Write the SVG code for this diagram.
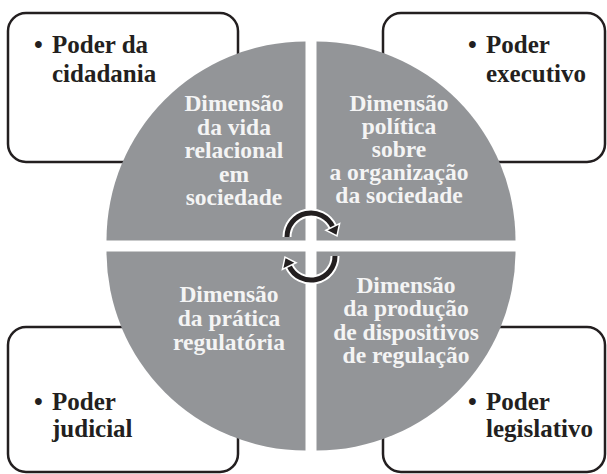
<svg xmlns="http://www.w3.org/2000/svg" width="607" height="474" viewBox="0 0 607 474">
<style>
.box{fill:#fff;stroke:#231f20;stroke-width:2.5}
.q{fill:#939598}
.bt{font-family:"Liberation Serif",serif;font-weight:bold;font-size:25px;fill:#231f20}
.ct{font-family:"Liberation Serif",serif;font-weight:bold;font-size:23.5px;fill:#f4f4f4;text-anchor:middle}
.arcw{fill:none;stroke:#fff;stroke-width:9}
.arcb{fill:none;stroke:#231f20;stroke-width:5}
.head{fill:#231f20;stroke:#fff;stroke-width:1.5;stroke-linejoin:miter}
</style>
<rect width="607" height="474" fill="#fff"/>
<g id="box-cidadania"><rect class="box" x="8" y="13" width="230" height="149" rx="18"/>
<text class="bt"><tspan x="34" y="53">•</tspan><tspan x="52" y="53">Poder da</tspan><tspan x="52" y="82">cidadania</tspan></text></g>
<g id="box-executivo"><rect class="box" x="383" y="13" width="222" height="149" rx="18"/>
<text class="bt"><tspan x="468" y="53">•</tspan><tspan x="486" y="53">Poder</tspan><tspan x="486" y="82">executivo</tspan></text></g>
<g id="box-judicial"><rect class="box" x="8" y="327" width="230" height="145" rx="18"/>
<text class="bt"><tspan x="34" y="410">•</tspan><tspan x="52" y="410">Poder</tspan><tspan x="52" y="437">judicial</tspan></text></g>
<g id="box-legislativo"><rect class="box" x="383" y="327" width="222" height="145" rx="18"/>
<text class="bt"><tspan x="468" y="410">•</tspan><tspan x="486" y="410">Poder</tspan><tspan x="486" y="437">legislativo</tspan></text></g>
<g id="q-relacional"><path class="q" d="M305.5 240.5 H106.5 A199 199 0 0 1 305.5 41.5 Z"/>
<text class="ct"><tspan x="234" y="111">Dimensão</tspan><tspan x="234" y="134.5">da vida</tspan><tspan x="234" y="158">relacional</tspan><tspan x="234" y="181.5">em</tspan><tspan x="234" y="205">sociedade</tspan></text></g>
<g id="q-politica"><path class="q" d="M316.5 240.5 V41.5 A199 199 0 0 1 515.5 240.5 Z"/>
<text class="ct"><tspan x="399" y="110.5">Dimensão</tspan><tspan x="399" y="133.5">política</tspan><tspan x="399" y="156.5">sobre</tspan><tspan x="399" y="180">a organização</tspan><tspan x="399" y="203">da sociedade</tspan></text></g>
<g id="q-regulatoria"><path class="q" d="M305.5 251.5 V450.5 A199 199 0 0 1 106.5 251.5 Z"/>
<text class="ct"><tspan x="229" y="302">Dimensão</tspan><tspan x="229" y="326">da prática</tspan><tspan x="229" y="350">regulatória</tspan></text></g>
<g id="q-producao"><path class="q" d="M316.5 251.5 H515.5 A199 199 0 0 1 316.5 450.5 Z"/>
<text class="ct"><tspan x="406" y="292.5">Dimensão</tspan><tspan x="406" y="316">da produção</tspan><tspan x="406" y="339.5">de dispositivos</tspan><tspan x="406" y="363">de regulação</tspan></text></g>
<g id="connectors">
<g id="arrow-top">
<path class="arcw" d="M287 237 A24 24 0 0 1 332.8 226.9"/>
<path class="arcb" d="M287 237 A24 24 0 0 1 332.8 226.9"/>
<polygon class="head" points="339.6,223.6 337,236 325.9,230.2"/>
</g>
<g id="arrow-bottom" transform="rotate(180 311 246.5)">
<path class="arcw" d="M287 237 A24 24 0 0 1 332.8 226.9"/>
<path class="arcb" d="M287 237 A24 24 0 0 1 332.8 226.9"/>
<polygon class="head" points="339.6,223.6 337,236 325.9,230.2"/>
</g>
</g>
</svg>
